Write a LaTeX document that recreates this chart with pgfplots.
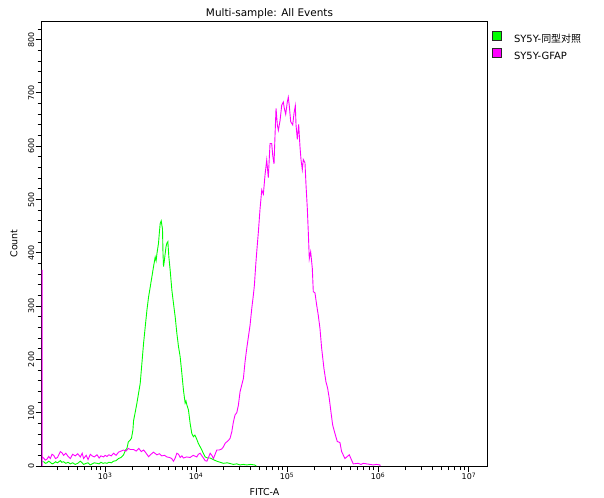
\documentclass[border=0pt]{standalone}
\usepackage{fontspec}
\setmainfont{DejaVu Sans}
\newfontfamily\cjk{Noto Sans CJK SC}
\usepackage{pgfplots}
\pgfplotsset{compat=1.18}

\definecolor{isogreen}{RGB}{0,255,0}
\definecolor{gfapmag}{RGB}{255,0,255}
\definecolor{boxedge}{RGB}{40,40,40}

% isotype control histogram (FITC-A, count)
\pgfplotstableread{
x y
203 8
211 8
220 5
230 6
240 9
250 7
261 4
272 5
285 8
300 6
322 10
335 7
350 8
370 5
392 7
415 4
440 6
470 3
500 5
534 9
560 6
581 3
620 5
650 6
688 2
720 4
760 6
815 5
860 4
900 7
950 5
1000 6
1049 5
1100 7
1170 6
1240 9
1320 10
1407 14
1500 16
1596 21
1680 30
1738 33
1800 45
1892 49
1950 52
2024 68
2056 85
2140 100
2239 118
2330 136
2433 155
2540 193
2648 230
2762 261
2882 292
3005 317
3135 336
3270 355
3408 374
3556 392
3640 385
3713 398
3866 418
3960 440
4036 455
4140 460
4210 452
4277 445
4330 400
4389 374
4480 385
4581 399
4680 412
4779 418
4900 421
5025 392
5196 367
5421 330
5649 305
5896 280
6152 249
6412 224
6689 205
6979 174
7274 142
7589 118
7750 122
7918 115
8253 105
8610 80
8983 61
9363 55
9700 58
10020 53
10300 48
10620 42
11100 36
11580 30
12000 24
12590 17
13400 15
14280 15
15500 12
16900 9
18400 7
20000 5
22000 6
25760 3
28000 4
30500 2
33000 3
36000 2
40000 3
44000 2
46000 0
}\isotype

% GFAP histogram
\pgfplotstableread{
x y
201.5 0
201.5 367
203 367
203 0
204 17
211 15
220 11
230 13
240 18
250 14
261 22
272 20
285 14
300 16
322 27
335 25
350 20
370 24
392 18
415 14
440 22
470 19
500 23
534 17
560 24
581 14
620 20
650 12
688 22
720 19
760 17
815 21
860 15
900 19
963 17
1000 20
1049 18
1100 21
1170 19
1240 24
1320 20
1407 26
1500 28
1596 30
1700 28
1800 33
1900 31
2056 31
2200 28
2350 33
2500 27
2648 30
2800 25
3005 17.5
3200 22
3400 26
3713 21
3950 23
4200 19
4500 20
4779 17
5100 16
5400 14
5649 9
5900 15
6152 24
6412 22
6700 16
7000 19
7274 15
7900 17
8610 16
9300 20
10200 17
10600 22
11090 24
11600 19
12050 15
12600 10
13150 9
13700 16
14290 24
14900 20
15530 14
16200 22
16900 30
18000 30
19180 32
20000 36
20850 42.5
22700 48
23660 52
24700 64
25760 83
26860 96
28040 100
29200 114
30450 139
31810 152
33140 164
34590 196
36110 221
37600 242
39240 264
40990 296
42690 321
43790 339
45300 377
46470 402
48420 439
50550 483
52760 518
54950 510
57310 546
59830 574
62310 541
65050 605
67880 605
69630 583
71960 567
73850 621
75740 671
78300 640
80330 630
83810 648
87480 677
91070 683
93430 671
96740 660
100700 683
103300 692
105900 676
109800 646
115500 640
119400 662
123400 676
125600 640
129800 613
134300 641
138900 599
142500 575
147300 556
151000 575
157600 569
161800 527
167200 483
171400 439
175800 389
182000 402
189700 371
194500 327
202900 325
211800 302
220600 283
230300 258
240300 221
254700 183
267900 158
279600 146
291300 127
303900 102
317400 77
336600 61
356700 46
381700 44
398500 27
433300 14
483500 21
513000 11
534500 4
606500 5
650000 3
688800 5
749800 4
820000 3
885100 2
960000 3
1049000 2
1060000 0
}\gfap

\begin{document}
\begin{tikzpicture}
\begin{axis}[
    scale only axis,
    width=446bp, height=445bp,
    xmode=log, log basis x=10,
    xmin=200, xmax=1.6e7,
    ymin=0, ymax=835,
    axis line style={black, line width=0.9bp},
    tick style={black, line width=0.9bp},
    tick align=outside, tick pos=left,
    major tick length=6bp, minor tick length=4bp,
    xtick={1e3,1e4,1e5,1e6,1e7},
    xticklabels={10\textsuperscript{3},10\textsuperscript{4},10\textsuperscript{5},10\textsuperscript{6},10\textsuperscript{7}},
    minor xtick={300,400,500,600,700,800,900,
                 2000,3000,4000,5000,6000,7000,8000,9000,
                 20000,30000,40000,50000,60000,70000,80000,90000,
                 200000,300000,400000,500000,600000,700000,800000,900000,
                 2000000,3000000,4000000,5000000,6000000,7000000,8000000,9000000},
    ytick={0,100,...,800},
    minor ytick={20,40,...,820},
    /pgf/number format/assume math mode=true,
    xticklabel style={anchor=north, inner sep=0.5bp, font=\fontsize{8}{9}\selectfont},
    yticklabel style={rotate=90, anchor=south, inner sep=1bp, font=\fontsize{8}{9}\selectfont},
    title={Multi-sample: All Events},
    every axis title/.style={at={(axis description cs:0.5112,1.0101)}, anchor=base, inner sep=0pt, font=\fontsize{10.5}{12}\selectfont},
    xlabel={FITC-A},
    xlabel style={at={(axis description cs:0.5,-0.0663)}, anchor=base, inner sep=0pt, font=\fontsize{9.5}{11}\selectfont},
    ylabel={Count},
    ylabel style={at={(axis description cs:-0.0617,0.5)}, anchor=center, inner sep=0pt, font=\fontsize{9.5}{11}\selectfont},
    legend style={at={(axis description cs:1.0101,0.9775)}, anchor=north west,
        draw=none, fill=none, inner sep=0pt, row sep=3bp,
        font=\fontsize{10}{12}\selectfont,
        nodes={inner sep=1bp, text height=7.5bp, text depth=2bp},
        /tikz/every odd column/.append style={column sep=11bp}},
    legend cell align=left,
]
\addplot[isogreen, line width=0.9bp, sharp plot, no markers,
    legend image code/.code={\draw[fill=isogreen, draw=boxedge, line width=0.8bp] (0bp,-1bp) rectangle (9bp,8bp);}]
    table[x=x, y=y] {\isotype};
\addlegendentry{SY5Y-{\cjk 同型对照}}
\addplot[gfapmag, line width=0.9bp, sharp plot, no markers,
    legend image code/.code={\draw[fill=gfapmag, draw=boxedge, line width=0.8bp] (0bp,-1bp) rectangle (9bp,8bp);}]
    table[x=x, y=y] {\gfap};
\addlegendentry{SY5Y-GFAP}
\end{axis}
\pgfresetboundingbox
\path[use as bounding box]
    ([shift={(-41.5bp,-32bp)}]current axis.south west)
    rectangle ([shift={(116.5bp,21bp)}]current axis.north east);
\end{tikzpicture}
\end{document}
